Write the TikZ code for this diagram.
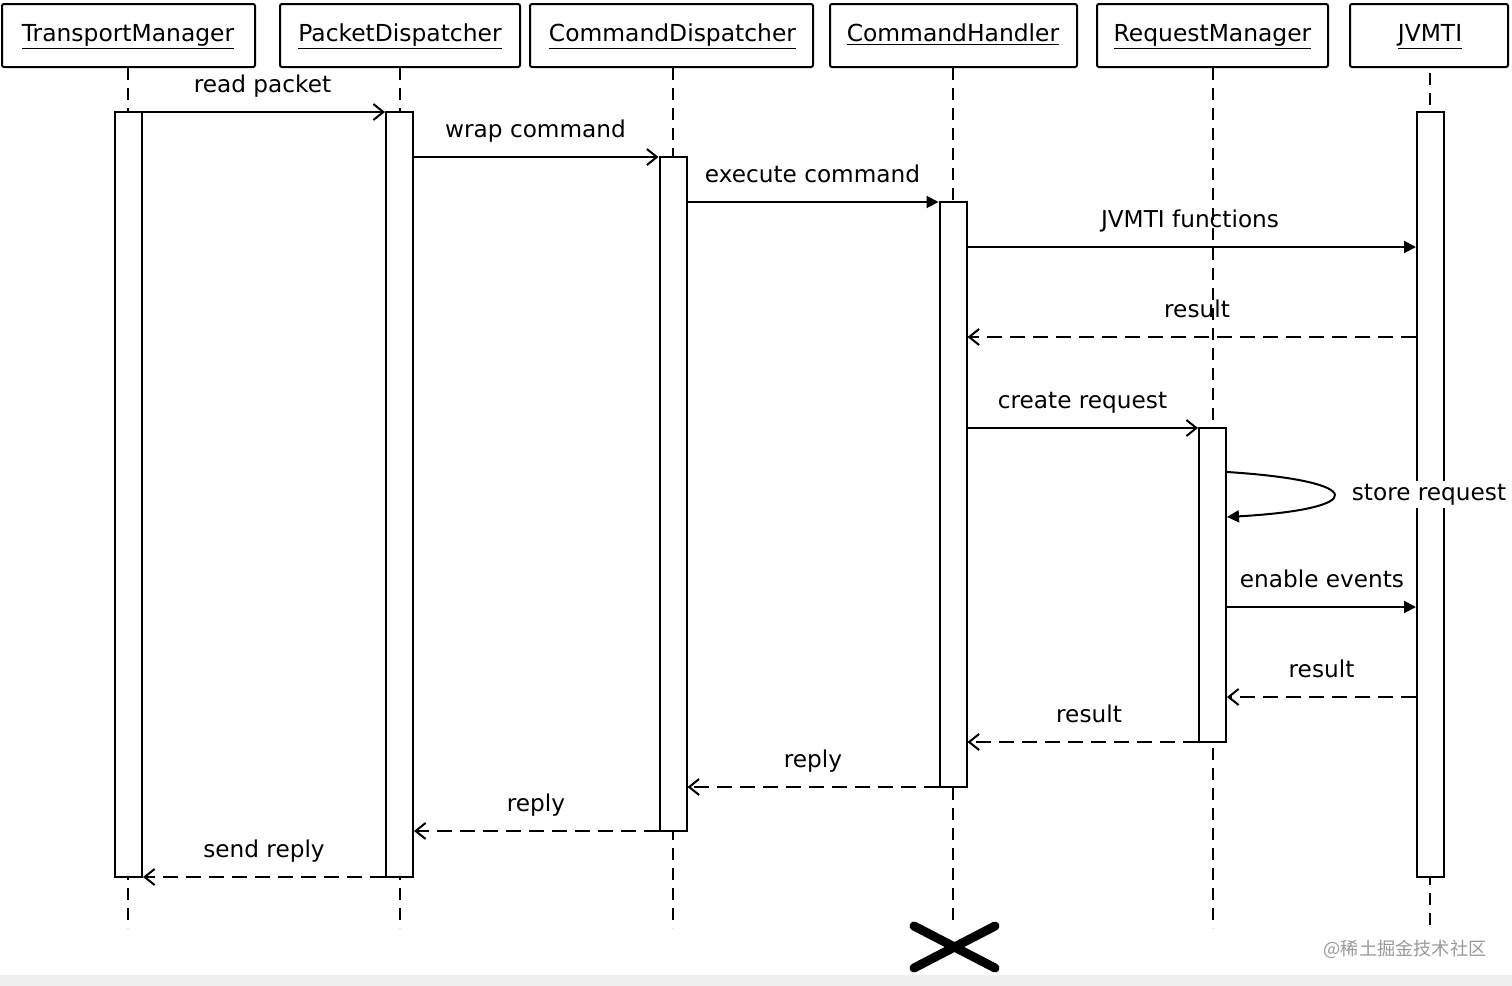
\documentclass[tikz,border=0pt]{standalone}
\usepackage{fontspec}
\setmainfont{DejaVu Sans}
\newfontfamily\cjk{Noto Sans CJK SC}
\usetikzlibrary{arrows.meta}
\definecolor{stripgray}{HTML}{F0F0F0}
\definecolor{wmgray}{HTML}{9A9A9A}
\begin{document}
\begin{tikzpicture}[x=0.5pt,y=-0.5pt,
  head/.style={draw, line width=1pt, minimum height=31.5pt, inner sep=0pt, rounded corners=1pt},
  htxt/.style={anchor=base, inner sep=0pt, font=\fontsize{11.7}{14}\selectfont},
  bar/.style={draw, fill=white, line width=1pt, minimum width=13.5pt, inner sep=0pt},
  life/.style={line width=1pt, dash pattern=on 6pt off 4pt},
  msg/.style={line width=1pt, -{Straight Barb[length=5pt,width=8pt,line width=1pt]}},
  call/.style={line width=1pt, -{Triangle[length=6pt,width=6pt]}},
  ret/.style={msg, dash pattern=on 7.5pt off 4pt},
  lbl/.style={anchor=base, inner sep=0pt, font=\fontsize{11.6}{14}\selectfont}]
\useasboundingbox (0,0) rectangle (1512,986);
\fill[white] (0,0) rectangle (1512,986);
\fill[stripgray] (0,975) rectangle (1512,986);

% headers
\node[head, minimum width=126.5pt] (tmH) at (128.5,35.5) {};
\node[head, minimum width=120pt]   (pdH) at (400,35.5) {};
\node[head, minimum width=141.5pt] (cdH) at (671.5,35.5) {};
\node[head, minimum width=123.5pt] (chH) at (953.5,35.5) {};
\node[head, minimum width=115.5pt] (rmH) at (1212.5,35.5) {};
\node[head, minimum width=79pt]    (jvH) at (1429,35.5) {};
\node[htxt] (tmT) at (128,41) {\underline{TransportManager}};
\node[htxt] (pdT) at (400,41) {\underline{PacketDispatcher}};
\node[htxt] (cdT) at (672.5,41) {\underline{CommandDispatcher}};
\node[htxt] (chT) at (953,41) {\underline{CommandHandler}};
\node[htxt] (rmT) at (1212.5,41) {\underline{RequestManager}};
\node[htxt] (jvT) at (1430,41) {\underline{JVMTI}};

% lifeline ends
\coordinate (tmE) at (128,928);
\coordinate (pdE) at (400,928);
\coordinate (cdE) at (673,928);
\coordinate (chE) at (953,924);
\coordinate (rmE) at (1213,928);
\coordinate (jvS) at (1430,73);
\coordinate (jvE) at (1430,928);
\draw[life] (tmH.south -| tmE) -- (tmE);
\draw[life] (pdH.south -| pdE) -- (pdE);
\draw[life] (cdH.south -| cdE) -- (cdE);
\draw[life] (chH.south -| chE) -- (chE);
\draw[life] (rmH.south -| rmE) -- (rmE);
\draw[life] (jvS) -- (jvE);

% activation bars
\node[bar, minimum height=382.5pt] (tmA) at (128.5,494.5) {};
\node[bar, minimum height=382.5pt] (pdA) at (399.5,494.5) {};
\node[bar, minimum height=337pt]   (cdA) at (673,494) {};
\node[bar, minimum height=292.5pt] (chA) at (953,494.5) {};
\node[bar, minimum height=157pt]   (rmA) at (1212.5,585) {};
\node[bar, minimum height=382.5pt] (jvA) at (1430.5,494.5) {};

% messages
\draw[msg]  (tmA.east |- 0,112) -- (pdA.west |- 0,112);
\node[lbl] (l1) at (262.5,92) {read packet};
\draw[msg]  (pdA.east |- 0,157) -- (cdA.west |- 0,157);
\node[lbl] (l2) at (535.5,137) {wrap command};
\draw[call] (cdA.east |- 0,202) -- (chA.west |- 0,202);
\node[lbl] (l3) at (812.5,182) {execute command};
\draw[call] (chA.east |- 0,247) -- (jvA.west |- 0,247);
\node[lbl] (l4) at (1190,227) {JVMTI functions};
\draw[ret]  (jvA.west |- 0,337) -- (chA.east |- 0,337);
\node[lbl] (l5) at (1197,317) {result};
\draw[msg]  (chA.east |- 0,428) -- (rmA.west |- 0,428);
\node[lbl] (l6) at (1082.5,408) {create request};

% self call
\coordinate (s1) at (rmA.east |- 0,472);
\coordinate (s2) at (rmA.east |- 0,517);
\draw[call] (s1) .. controls (1369,481) and (1369,509) .. (s2);
\node[lbl, fill=white, inner sep=1.5pt] (l7) at (1429,500) {store request};

\draw[call] (rmA.east |- 0,607) -- (jvA.west |- 0,607);
\node[lbl] (l8) at (1322,587) {enable events};
\draw[ret]  (jvA.west |- 0,697) -- (rmA.east |- 0,697);
\node[lbl] (l9) at (1321.5,677) {result};
\draw[ret]  (rmA.west |- 0,742) -- (chA.east |- 0,742);
\node[lbl] (l10) at (1089,722) {result};
\draw[ret]  (chA.west |- 0,787) -- (cdA.east |- 0,787);
\node[lbl] (l11) at (813,767) {reply};
\draw[ret]  (cdA.west |- 0,831) -- (pdA.east |- 0,831);
\node[lbl] (l12) at (536,811) {reply};
\draw[ret]  (pdA.west |- 0,877) -- (tmA.east |- 0,877);
\node[lbl] (l13) at (264,857) {send reply};

% destruction mark
\coordinate (xc) at (954,947);
\draw[line width=4.5pt, line cap=round] (914,926) -- (995,968) (914,968) -- (995,926);

% watermark
\node[anchor=base, inner sep=0pt, text=wmgray, font=\cjk\fontsize{9.1}{11}\selectfont] (wm) at (1405,955) {@稀土掘金技术社区};
\end{tikzpicture}
\end{document}
